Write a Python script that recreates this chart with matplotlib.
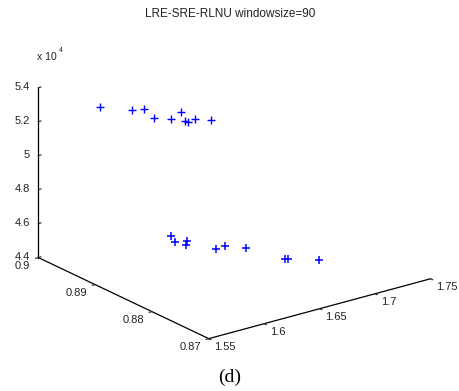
import numpy as np
import matplotlib
matplotlib.use("Agg")
import matplotlib.pyplot as plt

plt.rcParams["font.family"] = ["Liberation Sans", "DejaVu Sans"]

TITLE = "LRE-SRE-RLNU windowsize=90"

# upper group
sre_a = [1.604, 1.618, 1.626, 1.621, 1.629, 1.644, 1.636, 1.636, 1.643, 1.651]
lre_a = [0.8996, 0.8967, 0.8963, 0.8935, 0.8921, 0.8932, 0.8909, 0.8905, 0.8906, 0.8894]
rlnu_a = [52000] * 10
# lower group
sre_b = [1.632, 1.627, 1.635, 1.629, 1.642, 1.651, 1.660, 1.670, 1.671, 1.688]
lre_b = [0.8927, 0.8910, 0.8905, 0.8895, 0.8866, 0.8868, 0.8849, 0.8800, 0.8797, 0.8776]
rlnu_b = [45000] * 10

x_ticks = [1.55, 1.6, 1.65, 1.7, 1.75]
x_labels = ["1.55", "1.6", "1.65", "1.7", "1.75"]
y_ticks = [0.87, 0.88, 0.89, 0.9]
y_labels = ["0.87", "0.88", "0.89", "0.9"]
z_ticks = [44000, 46000, 48000, 50000, 52000, 54000]
z_labels = ["4.4", "4.6", "4.8", "5", "5.2", "5.4"]

fig = plt.figure(figsize=(4.6, 3.91), dpi=100)
ax = fig.add_axes([0.0, 0.10, 1.0, 0.84], projection="3d")
ax.set_proj_type("ortho")
ax.view_init(elev=21, azim=-127)
ax.set_box_aspect((1, 1.02, 0.655), zoom=1.29)

ax.scatter(sre_a, lre_a, rlnu_a, marker="+", color="blue", s=30, linewidths=1.0, depthshade=False)
ax.scatter(sre_b, lre_b, rlnu_b, marker="+", color="blue", s=30, linewidths=1.1, depthshade=False)

ax.set_xlim(1.55, 1.75)
ax.set_ylim(0.87, 0.9)
ax.set_zlim(44000, 54000)
ax.set_xticks(x_ticks)
ax.set_xticklabels(x_labels)
ax.set_yticks(y_ticks)
ax.set_yticklabels(y_labels)
ax.set_zticks(z_ticks)
ax.set_zticklabels(z_labels)

ax.grid(False)
for axis in (ax.xaxis, ax.yaxis, ax.zaxis):
    axis.pane.fill = False
    axis.pane.set_edgecolor("none")
    axis.line.set_color("black")
    axis.line.set_linewidth(0.9)
    axis._axinfo["tick"]["inward_factor"] = 0.15
    axis._axinfo["tick"]["outward_factor"] = 0.0
    axis._axinfo["tick"]["linewidth"] = {True: 0.8, False: 0.5}
    axis._axinfo["tick"]["color"] = "black"
ax.zaxis._axinfo["tick"]["inward_factor"] = 0.0
ax.zaxis._axinfo["tick"]["outward_factor"] = 0.15

ax.tick_params(labelsize=8, colors="#222222")
ax.tick_params(axis="x", pad=-4)
ax.tick_params(axis="y", pad=-3.6)
ax.tick_params(axis="z", pad=-5.4)
for lbl in ax.get_xticklabels():
    lbl.set_ha("left")
    lbl.set_va("center")
for lbl in ax.get_yticklabels():
    lbl.set_ha("right")
    lbl.set_va("center")
for lbl in ax.get_zticklabels():
    lbl.set_ha("right")
    lbl.set_va("center")

fig.text(0.5, 0.965, TITLE, ha="center", va="center", fontsize=8.5, color="#222222")
fig.text(0.08, 0.855, "x 10", ha="left", va="center", fontsize=7.5, color="#222222")
fig.text(0.128, 0.87, "4", ha="left", va="center", fontsize=5, color="#222222")
fig.text(0.5, 0.035, "(d)", ha="center", va="center", fontsize=14,
         family=["Liberation Serif", "DejaVu Serif"])

fig.savefig("out.png", dpi=100)
